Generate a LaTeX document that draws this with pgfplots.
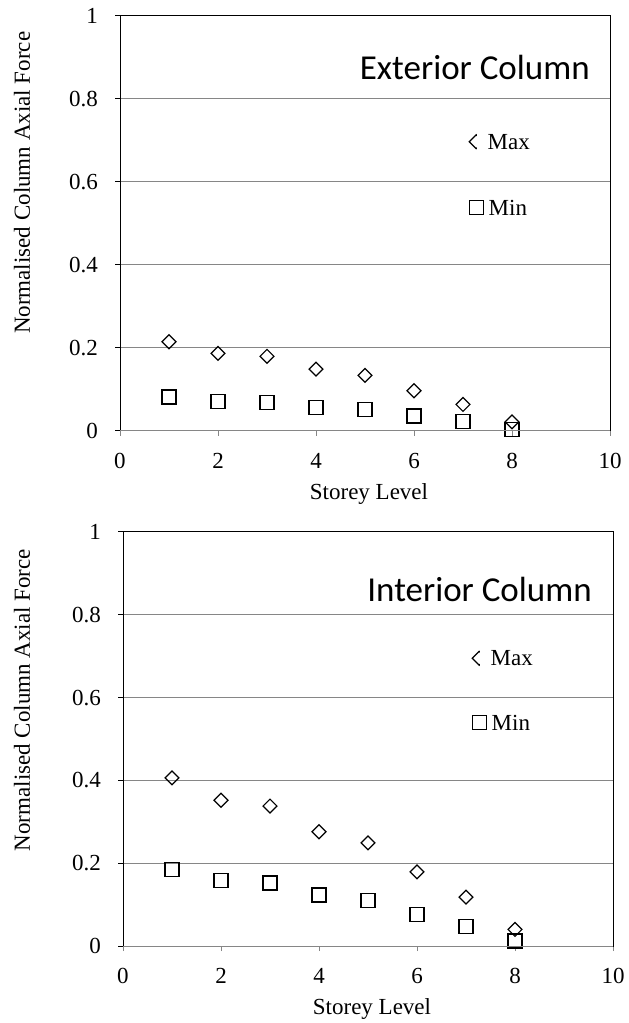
\documentclass[border=0pt]{standalone}
\usepackage{fontspec}
\setmainfont{Liberation Serif}
\newfontfamily\calibri{Carlito}
\newfontfamily\timesfont{Liberation Serif}
\usepackage{pgfplots}
\usepackage{pgfplotstable}
\pgfplotsset{compat=1.18}
\definecolor{gridgray}{RGB}{134,134,134}

\pgfplotstableread{
x maxv minv
1 0.215 0.082
2 0.187 0.071
3 0.180 0.068
4 0.149 0.056
5 0.134 0.051
6 0.097 0.036
7 0.064 0.022
8 0.022 0.004
}\exterior

\pgfplotstableread{
x maxv minv
1 0.406 0.185
2 0.352 0.159
3 0.338 0.152
4 0.276 0.123
5 0.249 0.110
6 0.179 0.077
7 0.118 0.047
8 0.040 0.012
}\interior

\pgfplotsset{
  colplot/.style={
    scale only axis, width=490pt,
    xmin=0, xmax=10, ymin=0, ymax=1,
    xtick={0,2,4,6,8,10}, ytick={0,0.2,0.4,0.6,0.8,1},
    xticklabels={0,2,4,6,8,10},
    yticklabels={0,0.2,0.4,0.6,0.8,1},
    ymajorgrids, grid style={gridgray, line width=1pt},
    axis line style={black, line width=1pt},
    tick pos=left, tick align=outside, major tick length=5pt,
    xtick style={gridgray, line width=1pt},
    ytick style={black, line width=1pt},
    tick label style={font=\timesfont\fontsize{23}{27}\selectfont},
    xticklabel style={inner sep=0pt, anchor=north, yshift=-17pt},
    yticklabel style={inner sep=0pt, anchor=east, xshift=-17pt},
    xlabel={Storey Level},
    xlabel style={font=\timesfont\fontsize{23}{27}\selectfont, inner sep=0pt, at={(rel axis cs:0.5,0)}, anchor=north, yshift=-52pt, xshift=4pt},
    ylabel={Normalised Column Axial Force},
    clip=false,
  },
  maxmark/.style={only marks, mark=square, mark size=4.9pt, mark options={rotate=45, black, line width=1.2pt, fill=white}},
  minmark/.style={only marks, mark=square, mark size=7pt, mark options={black, line width=1.2pt, fill=white}},
}

\begin{document}
\begin{tikzpicture}[x=1pt,y=1pt]
\useasboundingbox (0,0) rectangle (629,1023);

\begin{axis}[colplot, height=415pt, at={(120pt,592pt)}, anchor=south west,
  ylabel style={font=\timesfont\fontsize{23}{27}\selectfont, inner sep=0pt, at={([xshift=-98pt]rel axis cs:0,0.598)}, anchor=center, rotate=0},
  after end axis/.code={
    \draw[gridgray, line width=1pt] (rel axis cs:0,0) -- (rel axis cs:1,0);
    \node[anchor=west, fill=white, inner ysep=1pt, inner xsep=0pt, font=\timesfont\fontsize{23}{27}\selectfont] at (axis cs:7.275,0.697) {\hspace{11pt}Max};
  }]
  \addplot[maxmark] table[x=x, y=maxv] {\exterior};
  \addplot[minmark] table[x=x, y=minv] {\exterior};
  \addplot[maxmark] coordinates {(7.27,0.697)};
  \addplot[minmark] coordinates {(7.27,0.538)};
  \node[anchor=west, inner sep=0pt, font=\timesfont\fontsize{23}{27}\selectfont] at (axis cs:7.52,0.538) {Min};
  \node[anchor=base east, inner sep=0pt, font=\calibri\fontsize{35}{40}\selectfont] at (axis cs:9.59,0.846) {Exterior Column};
\end{axis}

\begin{axis}[colplot, height=414pt, at={(123pt,77pt)}, anchor=south west,
  ylabel style={font=\timesfont\fontsize{23}{27}\selectfont, inner sep=0pt, at={([xshift=-101pt]rel axis cs:0,0.594)}, anchor=center, rotate=0},
  after end axis/.code={
    \draw[gridgray, line width=1pt] (rel axis cs:0,0) -- (rel axis cs:1,0);
    \node[anchor=west, fill=white, inner ysep=1pt, inner xsep=0pt, font=\timesfont\fontsize{23}{27}\selectfont] at (axis cs:7.275,0.695) {\hspace{11pt}Max};
  }]
  \addplot[maxmark] table[x=x, y=maxv] {\interior};
  \addplot[minmark] table[x=x, y=minv] {\interior};
  \addplot[maxmark] coordinates {(7.27,0.695)};
  \addplot[minmark] coordinates {(7.27,0.540)};
  \node[anchor=west, inner sep=0pt, font=\timesfont\fontsize{23}{27}\selectfont] at (axis cs:7.52,0.540) {Min};
  \node[anchor=base east, inner sep=0pt, font=\calibri\fontsize{35}{40}\selectfont] at (axis cs:9.57,0.832) {Interior Column};
\end{axis}
\end{tikzpicture}
\end{document}
